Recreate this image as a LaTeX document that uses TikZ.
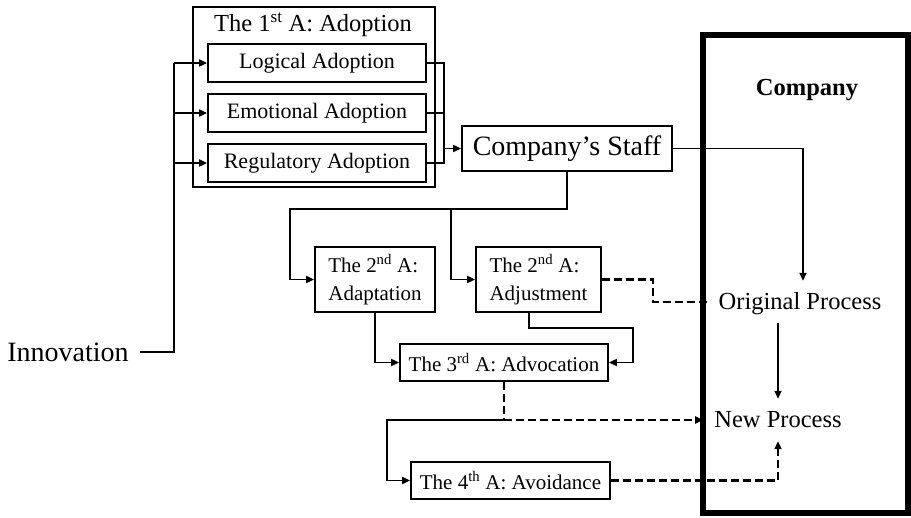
\documentclass[tikz,border=0pt]{standalone}
\usepackage{fontspec}
\setmainfont{Liberation Serif}
\usetikzlibrary{arrows.meta}
\begin{document}
\begin{tikzpicture}[x=1pt,y=-1pt,
  line/.style={line width=1.9pt, line join=miter},
  arr/.style={line, -{Triangle[length=8pt,width=7pt]}},
  dsh/.style={line width=2.3pt, dash pattern=on 8pt off 4pt},
  trunk/.style={line width=2.8pt, line join=miter},
  box/.style={draw, line width=1.8pt, inner sep=0pt, align=left,
    font=\fontsize{21}{28}\selectfont},
  abox/.style={box, minimum width=218pt, minimum height=38pt,
    font=\fontsize{22}{28}\selectfont},
  proc/.style={font=\fontsize{24.5}{28}\selectfont, text height=16pt,
    text depth=0pt, inner xsep=11pt, inner ysep=13pt}
]
\useasboundingbox (0,0) rectangle (911,518);

% the company frame
\node[draw, line width=5.5pt, inner sep=0pt, minimum width=205pt,
  minimum height=478pt] (company) at (805.5,274) {};
\node[font=\bfseries\fontsize{24.5}{28}\selectfont] (complabel) at (807,90) {Company};
\node[proc] (orig) at (800,302) {Original Process};
\node[proc] (new) at (778,420) {New Process};

% first A: adoption group
\node[draw, line width=1.8pt, inner sep=0pt, minimum width=242pt,
  minimum height=180pt] (adoptgrp) at (314,97) {};
\node[font=\fontsize{24.5}{28}\selectfont] (adopttitle) at (313,25)
  {The 1\textsuperscript{st} A: Adoption};
\node[abox] (logical) at (317,63) {Logical Adoption};
\node[abox] (emotional) at (317,113) {Emotional Adoption};
\node[abox] (regulatory) at (317,163) {Regulatory Adoption};

\node[box, minimum width=210pt, minimum height=45pt,
  font=\fontsize{28}{30}\selectfont] (staff) at (567,148.5) {Company’s Staff};

\node[box, minimum width=120pt, minimum height=65pt] (adapt) at (375,279.5)
  {The 2\textsuperscript{nd} A:\\Adaptation};
\node[box, minimum width=125pt, minimum height=65pt] (adjust) at (538.5,279.5)
  {The 2\textsuperscript{nd} A:\\Adjustment};
\node[box, minimum width=208pt, minimum height=37pt] (advoc) at (504,362.5)
  {The 3\textsuperscript{rd} A: Advocation};
\node[box, minimum width=199pt, minimum height=37pt] (avoid) at (510.5,480.5)
  {The 4\textsuperscript{th} A: Avoidance};

\node[font=\fontsize{28}{30}\selectfont, inner sep=0pt] (innov) at (68,352) {Innovation};

% innovation feeds the three adoption types
\coordinate (ibus) at (174,0);
\draw[trunk] ([xshift=11pt]innov.east) -- (ibus |- innov.east) -- (ibus |- logical.west);
\foreach \n in {logical,emotional,regulatory}
  \draw[arr] (ibus |- \n.west) -- (\n.west);

% adoption types merge into the staff
\coordinate (obus) at (444,0);
\draw[line] (logical.east) -| (obus |- regulatory.east) -- (regulatory.east);
\draw[line] (emotional.east) -- (obus |- emotional.east);
\draw[arr] (obus |- staff.west) -- (staff.west);

\draw[arr] (staff.east) -| ([xshift=3pt]orig.north);
\draw[arr] (orig.south -| new.north) -- (new.north);

% staff splits into the two second A's
\coordinate (lbend) at (290,209);
\coordinate (rbend) at (451,209);
\draw[arr] (staff.south) |- (lbend) |- (adapt.west);
\draw[arr] (rbend) |- (adjust.west);

\coordinate (jog) at (653,290);
\draw[dsh] (adjust.east) -| (jog) |- (orig.west);

\draw[arr] (adapt.south) |- (advoc.west);
\coordinate (abend) at (633,328);
\draw[arr] ([xshift=-9.5pt]adjust.south) |- (abend) |- (advoc.east);

% advocation leads to the new process or to avoidance
\coordinate (ajunc) at (advoc.south |- new.west);
\draw[dsh] (advoc.south) -- (ajunc);
\draw[arr, dsh] (ajunc) -- (new.west);
\coordinate (vbend) at (387,0);
\draw[arr] (ajunc) -- (vbend |- ajunc) |- (avoid.west);
\draw[arr, dsh] (avoid.east) -| (new.south);
\end{tikzpicture}
\end{document}
